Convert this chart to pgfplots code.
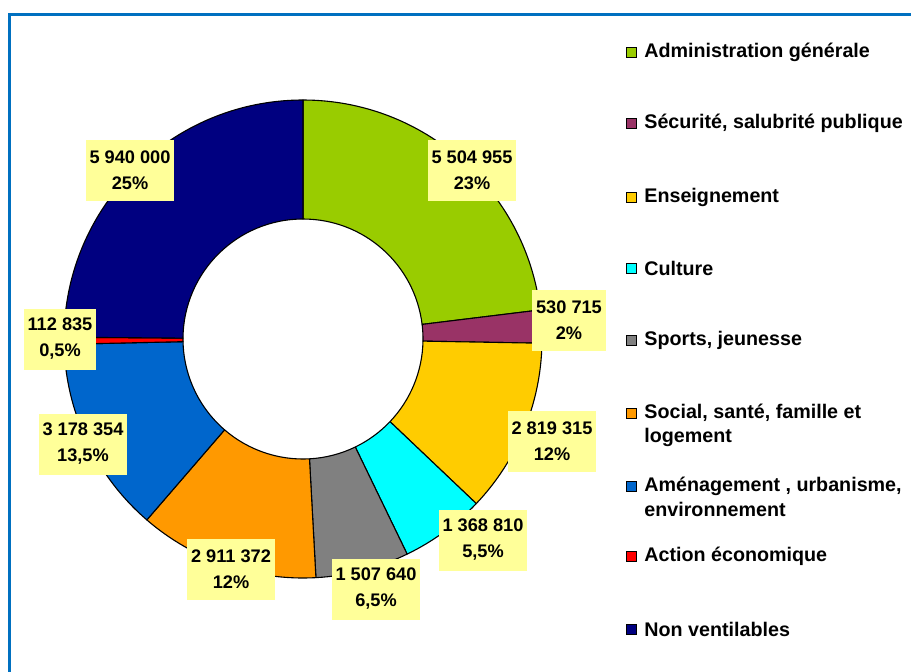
\documentclass[border=0pt]{standalone}
\usepackage{pgfplots}
\usepackage{pgfplotstable}
\usepackage{fontspec}
\setmainfont{Liberation Sans}
\pgfplotsset{compat=1.18}

\definecolor{sc0}{HTML}{99CC00}
\definecolor{sc1}{HTML}{993366}
\definecolor{sc2}{HTML}{FFCC00}
\definecolor{sc3}{HTML}{00FFFF}
\definecolor{sc4}{HTML}{808080}
\definecolor{sc5}{HTML}{FF9900}
\definecolor{sc6}{HTML}{0066CC}
\definecolor{sc7}{HTML}{FF0000}
\definecolor{sc8}{HTML}{000080}
\definecolor{lblbg}{HTML}{FFFF99}
\definecolor{framecol}{HTML}{0070C0}

% values, clockwise from the top
\pgfplotstableread{
value   lx   ly
5504955 472 170
530715  569 320
2819315 552 441
1368810 483 540
1507640 376 589
2911372 231 569
3178354  83 444
112835   60 339
5940000 130 170
}\datatable

\def\total{0}
\pgfplotsforeachungrouped \i in {0,...,8}{%
  \pgfplotstablegetelem{\i}{value}\of\datatable
  \xdef\total{\fpeval{\total+\pgfplotsretval}}%
}
\def\cum{0}
\pgfplotsforeachungrouped \i in {0,...,8}{%
  \pgfplotstablegetelem{\i}{value}\of\datatable
  \expandafter\xdef\csname aS\i\endcsname{\fpeval{360*\cum/\total}}%
  \xdef\cum{\fpeval{\cum+\pgfplotsretval}}%
  \expandafter\xdef\csname aE\i\endcsname{\fpeval{360*\cum/\total}}%
  \pgfplotstablegetelem{\i}{lx}\of\datatable
  \expandafter\xdef\csname lx\i\endcsname{\pgfplotsretval}%
  \pgfplotstablegetelem{\i}{ly}\of\datatable
  \expandafter\xdef\csname ly\i\endcsname{\pgfplotsretval}%
}

\newcommand\lbltext[1]{\ifcase#1 5 504 955\\23\%\or 530 715\\2\%\or 2 819 315\\12\%\or 1 368 810\\5,5\%\or 1 507 640\\6,5\%\or 2 911 372\\12\%\or 3 178 354\\13,5\%\or 112 835\\0,5\%\or 5 940 000\\25\%\fi}

\begin{document}
\begin{tikzpicture}
\useasboundingbox (0,0) rectangle (455.5pt,335.5pt);
\begin{axis}[
  at={(0,0)}, anchor=south west,
  hide axis, scale only axis,
  width=455.5pt, height=335.5pt,
  xmin=0, xmax=911, ymin=0, ymax=671,
  y dir=reverse, clip=false,
]
% frame
\draw[framecol, line width=1.5pt] (axis cs:9.5,720) -- (axis cs:9.5,14.5) -- (axis cs:960,14.5);

% donut sectors
\pgfplotsinvokeforeach{0,...,8}{
  \filldraw[fill=sc#1, draw=black, line width=0.55pt, line join=round]
    (axis cs:{303+239*sin(\csname aS#1\endcsname)},{339-239*cos(\csname aS#1\endcsname)})
    arc[start angle={90-\csname aS#1\endcsname}, end angle={90-\csname aE#1\endcsname}, radius=119.5pt]
    -- (axis cs:{303+120*sin(\csname aE#1\endcsname)},{339-120*cos(\csname aE#1\endcsname)})
    arc[start angle={90-\csname aE#1\endcsname}, end angle={90-\csname aS#1\endcsname}, radius=60pt]
    -- cycle;
}

% data labels
\pgfplotsinvokeforeach{0,...,8}{
  \node[fill=lblbg, inner xsep=2pt, inner ysep=0pt, minimum height=30.5pt,
        align=center, font=\fontsize{9.1}{13}\selectfont\bfseries]
    at (axis cs:\csname lx#1\endcsname,\csname ly#1\endcsname) {\lbltext{#1}};
}

% legend
\tikzset{lgtext/.style={anchor=west, inner sep=0pt, font=\fontsize{9.85}{12}\selectfont\bfseries}}
\filldraw[fill=sc0, draw=black, line width=0.45pt] (axis cs:626,47) rectangle (axis cs:636,57);
\node[lgtext] at (axis cs:644,52) {Administration générale};
\filldraw[fill=sc1, draw=black, line width=0.45pt] (axis cs:626,118) rectangle (axis cs:636,128);
\node[lgtext] at (axis cs:644,123) {Sécurité, salubrité publique};
\filldraw[fill=sc2, draw=black, line width=0.45pt] (axis cs:626,192) rectangle (axis cs:636,202);
\node[lgtext] at (axis cs:644,197) {Enseignement};
\filldraw[fill=sc3, draw=black, line width=0.45pt] (axis cs:626,263) rectangle (axis cs:636,273);
\node[lgtext] at (axis cs:644,268) {Culture};
\filldraw[fill=sc4, draw=black, line width=0.45pt] (axis cs:626,335) rectangle (axis cs:636,345);
\node[lgtext] at (axis cs:644,340) {Sports, jeunesse};
\filldraw[fill=sc5, draw=black, line width=0.45pt] (axis cs:626,408) rectangle (axis cs:636,418);
\node[lgtext] at (axis cs:644,413) {Social, santé, famille et};
\node[lgtext] at (axis cs:644,437) {logement};
\filldraw[fill=sc6, draw=black, line width=0.45pt] (axis cs:626,481) rectangle (axis cs:636,491);
\node[lgtext] at (axis cs:644,486) {Aménagement , urbanisme,};
\node[lgtext] at (axis cs:644,509) {environnement};
\filldraw[fill=sc7, draw=black, line width=0.45pt] (axis cs:626,551) rectangle (axis cs:636,561);
\node[lgtext] at (axis cs:644,556) {Action économique};
\filldraw[fill=sc8, draw=black, line width=0.45pt] (axis cs:626,624) rectangle (axis cs:636,634);
\node[lgtext] at (axis cs:644,629) {Non ventilables};
\end{axis}
\end{tikzpicture}
\end{document}
